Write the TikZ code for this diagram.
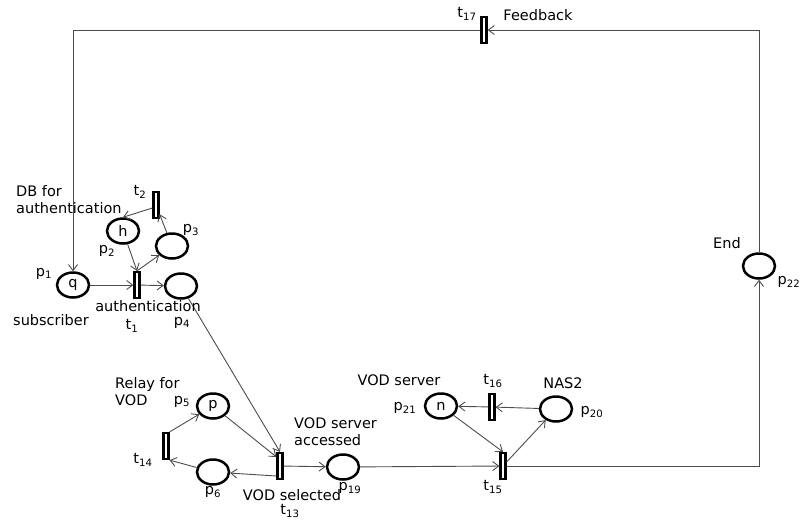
\documentclass[tikz,border=0pt]{standalone}
\usepackage{fontspec}
\setmainfont{DejaVu Sans}
\usepackage{tikz}
\usetikzlibrary{arrows.meta,shapes.geometric,positioning}

\begin{document}
\begin{tikzpicture}[x=1pt,y=-1pt,font=\fontsize{14.5}{17}\selectfont,
		place/.style={ellipse,draw=black,line width=2.5pt,minimum width=32pt,minimum height=25pt,inner sep=0pt},
		trans/.style={rectangle,draw=black,line width=2.2pt,fill=white,minimum width=5pt,minimum height=26pt,inner sep=0pt},
		arc/.style={draw=black!70,line width=0.9pt,-{Straight Barb[length=6pt,width=9pt]}},
		lbl/.style={inner sep=0pt,align=left}]
		\useasboundingbox (0,0) rectangle (801,520);
		% places
		\node[place] (p1) at (73,285) {q};
		\node[place] (p2) at (123,231) {h};
		\node[place] (p3) at (172,246) {};
		\node[place] (p4) at (181,286) {};
		\node[place] (p5) at (213,406) {p};
		\node[place] (p6) at (213,472) {};
		\node[place] (p19) at (343,467) {};
		\node[place] (p20) at (556,409) {};
		\node[place] (p21) at (441,406) {n};
		\node[place] (p22) at (759,266) {};
		% transitions
		\node[trans] (t1) at (137,285) {};
		\node[trans] (t2) at (156,205) {};
		\node[trans] (t13) at (280,466) {};
		\node[trans] (t14) at (166,446) {};
		\node[trans] (t15) at (503,466) {};
		\node[trans] (t16) at (492,407) {};
		\node[trans] (t17) at (484,30) {};
		% arcs
		\draw[arc] (p1) -- (t1);
		\draw[arc] (p2) -- (t1.north);
		\draw[arc] (t1.north) -- (p3);
		\draw[arc] (t1) -- (p4);
		\draw[arc] (p3) -- (t2);
		\draw[arc] ([yshift=-3pt]t2.west) -- (p2.north);
		\draw[arc] (p4) -- (t13.north);
		\draw[arc] (p5) -- ([yshift=-5pt]t13.north west);
		\draw[arc] ([yshift=-10pt]t13.west) -- (p6);
		\draw[arc] (p6) -- (t14.south east);
		\draw[arc] (t14.north east) -- (p5);
		\draw[arc] (t13) -- (p19);
		\draw[arc] (p19) -- (t15);
		\draw[arc] (p21) -- (t15.north);
		\draw[arc] ([yshift=4pt]t15.east) -- (p20);
		\draw[arc] (p20) -- (t16);
		\draw[arc] (t16) -- (p21);
		\draw[arc] (t15) -| (p22.south);
		\draw[arc] (p22.north) |- (t17);
		\draw[arc] (t17) -| (p1.north);
		% labels
		\node[lbl,anchor=west] (dblbl) at (16,200) {DB for\\authentication};
		\node[lbl] (t2lbl) at (140,192) {t\textsubscript{2}};
		\node[lbl] (p3lbl) at (191,230) {p\textsubscript{3}};
		\node[lbl] (p2lbl) at (107,251) {p\textsubscript{2}};
		\node[lbl] (p1lbl) at (44,274) {p\textsubscript{1}};
		\node[lbl] (sublbl) at (51,320) {subscriber};
		\node[lbl] (authlbl) at (148,306) {authentication};
		\node[lbl] (t1lbl) at (132,326) {t\textsubscript{1}};
		\node[lbl] (p4lbl) at (182,323) {p\textsubscript{4}};
		\node[lbl,anchor=west] (relaylbl) at (115,392) {Relay for\\VOD};
		\node[lbl] (p5lbl) at (182,402) {p\textsubscript{5}};
		\node[lbl] (t14lbl) at (143,460) {t\textsubscript{14}};
		\node[lbl] (p6lbl) at (213,492) {p\textsubscript{6}};
		\node[lbl] (sellbl) at (292,495) {VOD selected};
		\node[lbl] (t13lbl) at (290,511) {t\textsubscript{13}};
		\node[lbl,anchor=west] (acclbl) at (294,432) {VOD server\\accessed};
		\node[lbl] (p19lbl) at (350,488) {p\textsubscript{19}};
		\node[lbl] (vodlbl) at (399,380) {VOD server};
		\node[lbl] (p21lbl) at (405,408) {p\textsubscript{21}};
		\node[lbl] (t16lbl) at (493,381) {t\textsubscript{16}};
		\node[lbl] (naslbl) at (563,383) {NAS2};
		\node[lbl] (p20lbl) at (592,412) {p\textsubscript{20}};
		\node[lbl] (t15lbl) at (493,487) {t\textsubscript{15}};
		\node[lbl] (endlbl) at (727,243) {End};
		\node[lbl] (p22lbl) at (789,282) {p\textsubscript{22}};
		\node[lbl] (t17lbl) at (467,14) {t\textsubscript{17}};
		\node[lbl] (fblbl) at (538,15) {Feedback};
	\end{tikzpicture}
\end{document}
